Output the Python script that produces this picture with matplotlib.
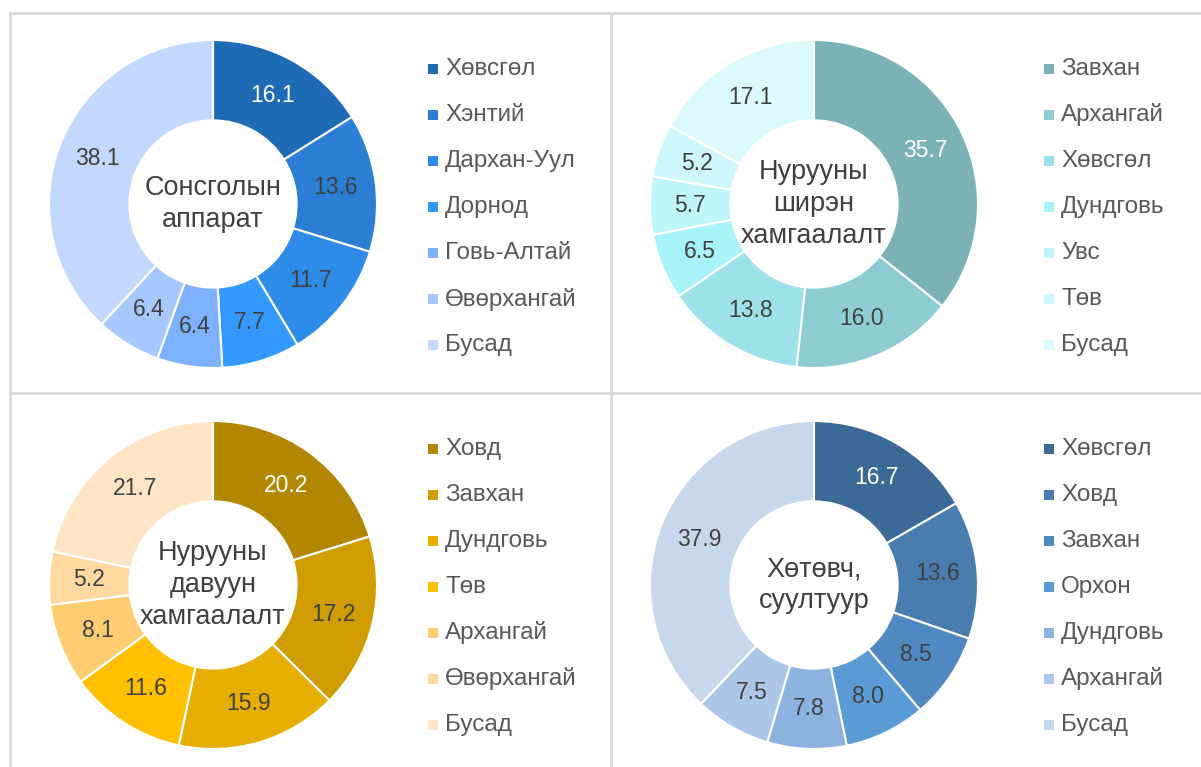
import matplotlib
matplotlib.use("Agg")
import matplotlib.pyplot as plt
from matplotlib.patches import Rectangle
from matplotlib.lines import Line2D
import numpy as np

plt.rcParams['font.family'] = ['Liberation Sans', 'DejaVu Sans']

W, H = 1201, 767

# ---- data ----
titles = ["Сонсголын\nаппарат", "Нурууны\nширэн\nхамгаалалт",
          "Нурууны\nдавуун\nхамгаалалт", "Хөтөвч,\nсуултуур"]

labels1 = ["Хөвсгөл", "Хэнтий", "Дархан-Уул", "Дорнод", "Говь-Алтай", "Өвөрхангай", "Бусад"]
values1 = [16.1, 13.6, 11.7, 7.7, 6.4, 6.4, 38.1]

labels2 = ["Завхан", "Архангай", "Хөвсгөл", "Дундговь", "Увс", "Төв", "Бусад"]
values2 = [35.7, 16.0, 13.8, 6.5, 5.7, 5.2, 17.1]

labels3 = ["Ховд", "Завхан", "Дундговь", "Төв", "Архангай", "Өвөрхангай", "Бусад"]
values3 = [20.2, 17.2, 15.9, 11.6, 8.1, 5.2, 21.7]

labels4 = ["Хөвсгөл", "Ховд", "Завхан", "Орхон", "Дундговь", "Архангай", "Бусад"]
values4 = [16.7, 13.6, 8.5, 8.0, 7.8, 7.5, 37.9]

colors1 = ["#1F6BB5", "#2A7FD4", "#2E8BE8", "#3399FF", "#7DB1FF", "#A6C8FF", "#C2D8FF"]
colors2 = ["#7AB2B6", "#8DCDD2", "#9DE2E8", "#A8F3F9", "#BEF6FA", "#CEF8FC", "#DCFAFD"]
colors3 = ["#B38600", "#D09D00", "#E6AE00", "#FFC000", "#FFCC72", "#FFD9A0", "#FFE5C6"]
colors4 = ["#3C6A96", "#4A7DAF", "#5088C2", "#5B9BD5", "#8CB2E0", "#ABC6E6", "#C7D8EC"]

# label colours (white on dark slices)
white_idx = [[0], [0], [0], [0]]

panels = [
    (labels1, values1, colors1),
    (labels2, values2, colors2),
    (labels3, values3, colors3),
    (labels4, values4, colors4),
]

# ---- layout (pixels) ----
centers = [(213, 204), (814, 204), (213, 585), (814, 585)]
R = 164
legend_x = [433, 1049, 433, 1049]
legend_y0 = [69, 69, 449, 449]
row_gap = 46

fig = plt.figure(figsize=(W / 100, H / 100), dpi=100)
fig.patch.set_facecolor("white")

def fx(x):
    return x / W

def fy(y):
    return 1 - y / H

# panel borders
border = "#D9D9D9"
for (x0, y0, x1, y1) in [(10, 13, 1210, 13), (10, 13, 10, 780), (611, 13, 611, 780),
                         (10, 393, 1210, 393)]:
    fig.add_artist(Line2D([fx(x0), fx(x1)], [fy(y0), fy(y1)], color=border, lw=2,
                          transform=fig.transFigure))

for p, (labs, vals, cols) in enumerate(panels):
    cx, cy = centers[p]
    ax = fig.add_axes([fx(cx - R), fy(cy + R), 2 * R / W, 2 * R / H])
    wedges, _ = ax.pie(vals, colors=cols, startangle=90, counterclock=False,
                       radius=1.0, wedgeprops=dict(width=0.49, edgecolor="white", linewidth=1.5))
    ax.set_xlim(-1.0, 1.0)
    ax.set_ylim(-1.0, 1.0)
    ax.set_aspect("equal")
    ax.axis("off")
    total = sum(vals)
    cum = 0
    for i, v in enumerate(vals):
        mid = (cum + v / 2) / total
        cum += v
        ang = np.deg2rad(90 - 360 * mid)
        r = 0.755
        c = "white" if i in white_idx[p] else "#404040"
        ax.text(r * np.cos(ang), r * np.sin(ang), f"{v:.1f}", ha="center", va="center",
                fontsize=16.5, color=c)
    ax.text(0, 0, titles[p], ha="center", va="center", fontsize=19.5, color="#404040",
            linespacing=1.3)

    # legend
    for i, lab in enumerate(labs):
        y = legend_y0[p] + i * row_gap
        x = legend_x[p]
        s = 10
        fig.add_artist(Rectangle((fx(x - s / 2), fy(y + s / 2)), s / W, s / H,
                                 transform=fig.transFigure, facecolor=cols[i], edgecolor="none"))
        fig.text(fx(x + 12), fy(y), lab, ha="left", va="center", fontsize=17.5, color="#595959")

fig.savefig("out.png", dpi=100, facecolor="white")
